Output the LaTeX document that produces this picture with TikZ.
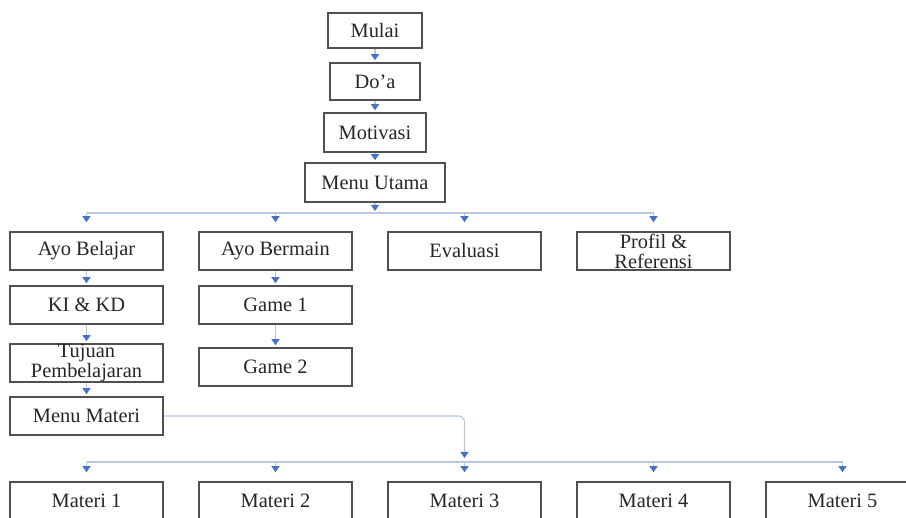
\documentclass[tikz,border=0pt]{standalone}
\usepackage{fontspec}
\setmainfont{Liberation Serif}
\usetikzlibrary{positioning, arrows.meta}
\definecolor{garisbiru}{RGB}{184,200,224}
\definecolor{ujungbiru}{RGB}{68,114,196}
\definecolor{tepi}{RGB}{80,80,80}
\tikzset{
  kotak/.style={rectangle, draw=tepi, line width=0.8pt, minimum width=76.5pt, minimum height=19pt, text centered, align=center, inner ysep=0pt, font=\fontsize{10.2}{10}\selectfont, text=black!85},
  panah/.style={draw=garisbiru, line width=0.6pt, -{Triangle[width=4pt,length=3pt,color=ujungbiru]}},
  garis/.style={draw=garisbiru, line width=0.6pt}
}
\begin{document}
\begin{tikzpicture}[x=0.5pt, y=-0.5pt, node distance=7.2pt]
\useasboundingbox (0,0) rectangle (906,518);

% Alur pembuka
\node (mulai) [kotak, minimum width=47pt, minimum height=17.5pt] at (375,30.5) {Mulai};
\node (doa) [kotak, minimum width=45pt, minimum height=18.5pt, below=6.7pt of mulai] {Do'a};
\node (motivasi) [kotak, minimum width=51pt, minimum height=19.5pt, below=5.7pt of doa] {Motivasi};
\node (utama) [kotak, minimum width=70pt, minimum height=19.5pt, below=4.7pt of motivasi] {Menu Utama};

% Menu utama
\node (belajar) [kotak] at (86.5,251) {Ayo Belajar};
\node (bermain) [kotak, right=17.2pt of belajar] {Ayo Bermain};
\node (evaluasi) [kotak, right=17.2pt of bermain] {Evaluasi};
\node (profil) [kotak, right=17.2pt of evaluasi] {Profil \&\\Referensi};

% Cabang Ayo Belajar
\node (kikd) [kotak, below=of belajar] {KI \& KD};
\node (tujuan) [kotak, below=9.2pt of kikd] {Tujuan\\Pembelajaran};
\node (menumateri) [kotak, below=6.7pt of tujuan] {Menu Materi};

% Cabang Ayo Bermain
\node (game1) [kotak, below=of bermain] {Game 1};
\node (game2) [kotak, below=11.2pt of game1] {Game 2};

% Materi
\node (m1) [kotak] at (86.5,501) {Materi 1};
\node (m2) [kotak, right=17.2pt of m1] {Materi 2};
\node (m3) [kotak, right=17.2pt of m2] {Materi 3};
\node (m4) [kotak, right=17.2pt of m3] {Materi 4};
\node (m5) [kotak, right=17.2pt of m4] {Materi 5};

% Panah alur pembuka
\draw [panah, shorten >=1pt] (mulai) -- (doa);
\draw [panah, shorten >=1pt] (doa) -- (motivasi);
\draw [panah, shorten >=1pt] (motivasi) -- (utama);

% Percabangan menu utama
\coordinate (bus1) at (375,213);
\draw [panah, shorten >=1pt] (utama.south) -- (utama.south |- bus1);
\draw [garis] (bus1 -| belajar) -- (bus1 -| profil);
\foreach \n in {belajar,bermain,evaluasi,profil}
  \draw [panah, shorten >=4.5pt] (bus1 -| \n) -- (\n.north);

\draw [panah, shorten >=1pt] (belajar) -- (kikd);
\draw [panah, shorten >=1pt] (kikd) -- (tujuan);
\draw [panah, shorten >=1pt] (tujuan) -- (menumateri);
\draw [panah, shorten >=1pt] (bermain) -- (game1);
\draw [panah, shorten >=1pt] (game1) -- (game2);

% Percabangan materi
\coordinate (bus2) at (467,462);
\draw [panah, rounded corners=3pt, shorten >=2pt] (menumateri.east) -| (bus2 -| m3);
\draw [garis] (bus2 -| m1) -- (bus2 -| m5);
\foreach \n in {m1,m2,m3,m4,m5}
  \draw [panah, shorten >=4.5pt] (bus2 -| \n) -- (\n.north);

\end{tikzpicture}
\end{document}
